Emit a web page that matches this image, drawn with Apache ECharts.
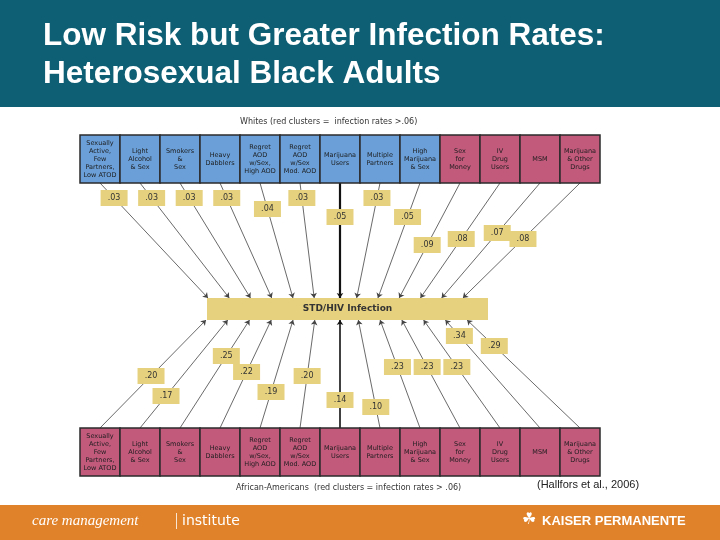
<!DOCTYPE html>
<html><head><meta charset="utf-8">
<script src="https://cdn.jsdelivr.net/npm/echarts@6/dist/echarts.min.js"></script>
<style>html,body{margin:0;padding:0;background:#fff}#c{width:720px;height:540px}</style>
</head><body><div id="c"></div>
<script>
const clusters = ["Sexually\nActive,\nFew\nPartners,\nLow ATOD","Light\nAlcohol\n& Sex","Smokers\n&\nSex","Heavy\nDabblers","Regret\nAOD\nw/Sex,\nHigh AOD","Regret\nAOD\nw/Sex\nMod. AOD","Marijuana\nUsers","Multiple\nPartners","High\nMarijuana\n& Sex","Sex\nfor\nMoney","IV\nDrug\nUsers","MSM","Marijuana\n& Other\nDrugs"];
const whiteRates = [".03",".03",".03",".03",".04",".03",".05",".03",".05",".09",".08",".07",".08"];
const blackRates = [".20",".17",".25",".22",".19",".20",".14",".10",".23",".23",".23",".34",".29"];
const whiteRed = [0,0,0,0,0,0,0,0,0,1,1,1,1];
const blackRed = [1,1,1,1,1,1,1,1,1,1,1,1,1];

// layout (pixel y on the inverted y axis, x in cluster units)
const topBox=[135,183], botBox=[428,476], hub=[298,320];
const topLabelY=[198,198,198,198,209,198,217,198,217,245,239,233,239];
const botLabelY=[376,396,356,372,392,376,400,407,367,367,367,336,346];
const topEndX = i => i===6 ? 6.5 : 3.2 + i*0.531, botEndX = i => i===6 ? 6.5 : 3.15 + i*0.544;
const BLUE='#6a9fd8', RED='#c25a7c', TAN='#e6d17e';

function boxes(y0,y1,red){return clusters.map((n,i)=>[i,y0,y1,red[i],n]);}
const boxData = boxes(topBox[0],topBox[1],whiteRed).concat(boxes(botBox[0],botBox[1],blackRed));

const lines=[], labels=[];
clusters.forEach((c,i)=>{
  const sx=i+0.5, ex=topEndX(i);
  lines.push({coords:[[sx,topBox[1]],[ex,hub[0]]], lineStyle: i===6?{width:2.2,color:'#111'}:{}});
  const t=(topLabelY[i]-topBox[1])/(hub[0]-topBox[1]);
  labels.push({value:[sx+(ex-sx)*t, topLabelY[i]], name: whiteRates[i]});
  const bx=botEndX(i);
  lines.push({coords:[[sx,botBox[0]],[bx,hub[1]]], lineStyle: i===6?{width:1.6,color:'#111'}:{}});
  const u=(botBox[0]-botLabelY[i])/(botBox[0]-hub[1]);
  labels.push({value:[sx+(bx-sx)*u, botLabelY[i]], name: blackRates[i]});
});

const chart=echarts.init(document.getElementById('c'));
chart.setOption({
  animation:false,
  grid:{left:80,right:120,top:0,bottom:0},
  xAxis:{type:'value',min:0,max:13,show:false},
  yAxis:{type:'value',min:0,max:540,inverse:true,show:false},
  graphic:[
    {type:'rect',shape:{x:0,y:0,width:720,height:107},style:{fill:'#0e5f74'}},
    {type:'text',left:43,top:17,style:{text:'Low Risk but Greater Infection Rates:\nHeterosexual Black Adults',fill:'#fff',font:'bold 31.5px "Liberation Sans", Arial',lineHeight:38}},
    {type:'rect',shape:{x:0,y:505,width:720,height:35},style:{fill:'#e0822a'}},
    {type:'text',left:32,top:514,style:{text:'care management',fill:'#fff',font:'italic 15px "Liberation Serif", serif',letterSpacing:1.5}},
    {type:'rect',shape:{x:176,y:513,width:0.8,height:16},style:{fill:'#fff'}},
    {type:'text',left:182,top:514,style:{text:'institute',fill:'#fff',font:'14px "DejaVu Sans", sans-serif',letterSpacing:2}},
    {type:'text',left:542,top:515,style:{text:'KAISER PERMANENTE',fill:'#fff',font:'bold 13px "Liberation Sans", Arial'}},
    {type:'text',left:522,top:512,style:{text:'☘',fill:'#fff',font:'16px "DejaVu Sans"'}},
    {type:'text',left:240,top:118,style:{text:'Whites (red clusters =  infection rates >.06)',fill:'#333',font:'8px "DejaVu Sans"'}},
    {type:'text',left:236,top:484,style:{text:'African-Americans  (red clusters = infection rates > .06)',fill:'#333',font:'8px "DejaVu Sans"'}},
    {type:'text',left:537,top:479,style:{text:'(Hallfors et al., 2006)',fill:'#222',font:'11px "Liberation Sans", Arial'}}
  ],
  series:[
    {type:'lines',coordinateSystem:'cartesian2d',z:1,symbol:['none','arrow'],symbolSize:5,
     lineStyle:{color:'#444',width:0.8,opacity:1},data:lines},
    {type:'custom',z:3,data:boxData,renderItem:(p,api)=>{
      const a=api.coord([api.value(0),api.value(1)]), b=api.coord([api.value(0)+1,api.value(2)]);
      const red=api.value(3);
      return {type:'group',children:[
        {type:'rect',shape:{x:a[0],y:a[1],width:b[0]-a[0],height:b[1]-a[1]},style:{fill:red?RED:BLUE,stroke:'#2b2b2b',lineWidth:1.5}},
        {type:'text',style:{text:clusters[api.value(0)],x:(a[0]+b[0])/2,y:(a[1]+b[1])/2,align:'center',verticalAlign:'middle',fill:'#1d1d1d',font:'6.5px "DejaVu Sans"',lineHeight:8}}
      ]};
    }},
    {type:'custom',z:3,data:[[hub[0],hub[1]]],renderItem:(p,api)=>{
      const a=api.coord([3.175,api.value(0)]), b=api.coord([10.2,api.value(1)]);
      return {type:'group',children:[
        {type:'rect',shape:{x:a[0],y:a[1],width:b[0]-a[0],height:b[1]-a[1]},style:{fill:TAN}},
        {type:'text',style:{text:'STD/HIV Infection',x:(a[0]+b[0])/2,y:(a[1]+b[1])/2,align:'center',verticalAlign:'middle',fill:'#333',font:'bold 9px "DejaVu Sans"'}}
      ]};
    }},
    {type:'scatter',z:4,symbol:'rect',symbolSize:[27,16],itemStyle:{color:TAN,opacity:1},data:labels,
     label:{show:true,position:'inside',formatter:p=>p.name,color:'#333',fontSize:8,fontFamily:'DejaVu Sans'}}
  ]
});
</script></body></html>
